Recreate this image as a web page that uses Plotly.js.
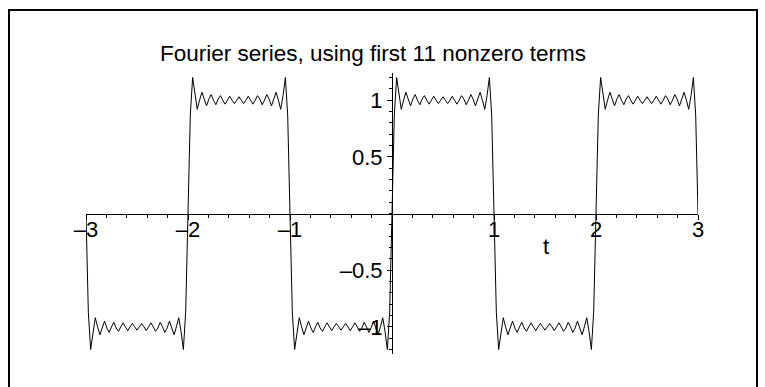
<!DOCTYPE html>
<html>
<head>
<meta charset="utf-8">
<script src="https://cdn.plot.ly/plotly-3.0.1.min.js"></script>
<style>
  html, body { margin: 0; padding: 0; background: #fff; overflow: hidden; }
  #chart { width: 765px; height: 387px; }
</style>
</head>
<body>
<div id="chart"></div>
<script>
// ---- data ----
// sample positions inside one half-cycle (offset from the start of the half-cycle, in t units)
const halfCycleT = [0, 0.0227, 0.0455, 0.0682, 0.0909, 0.1136, 0.1364, 0.1591, 0.1818, 0.2045,
  0.2273, 0.25, 0.2727, 0.2955, 0.3182, 0.3409, 0.3636, 0.3864, 0.4091, 0.4318,
  0.4545, 0.4773, 0.5, 0.5227, 0.5455, 0.5682, 0.5909, 0.6136, 0.6364, 0.6591,
  0.6818, 0.7045, 0.7273, 0.75, 0.7727, 0.7955, 0.8182, 0.8409, 0.8636, 0.8864,
  0.9091, 0.9318, 0.9545, 0.9773, 1];
// curve values on a positive half-cycle (with Gibbs ripples)
const crestY = [0, 0.87, 1.2, 1.04, 0.92, 1.0, 1.07, 1.01, 0.95, 1.01,
  1.05, 1.0, 0.96, 1.01, 1.04, 1.0, 0.965, 1.0, 1.035, 1.0,
  0.97, 1.0, 1.03, 1.0, 0.97, 1.0, 1.035, 1.0, 0.965, 1.0,
  1.04, 1.01, 0.96, 1.0, 1.05, 1.01, 0.95, 1.01, 1.07, 1.0,
  0.92, 1.04, 1.2, 0.87, 0];
// curve values on a negative half-cycle
const troughY = [0, -0.87, -1.2, -1.04, -0.92, -1.0, -1.07, -1.01, -0.95, -1.01,
  -1.05, -1.0, -0.96, -1.01, -1.04, -1.0, -0.965, -1.0, -1.035, -1.0,
  -0.97, -1.0, -1.03, -1.0, -0.97, -1.0, -1.035, -1.0, -0.965, -1.0,
  -1.04, -1.01, -0.96, -1.0, -1.05, -1.01, -0.95, -1.01, -1.07, -1.0,
  -0.92, -1.04, -1.2, -0.87, 0];
const halfCycleStart = [-3, -2, -1, 0, 1, 2];
const halfCycleKind = ['trough', 'crest', 'trough', 'crest', 'trough', 'crest'];

const xTickVals = [-3, -2, -1, 1, 2, 3];
const xTickText = ['\u20133', '\u20132', '\u20131', '1', '2', '3'];
const yTickVals = [-1, -0.5, 0.5, 1];
const yTickText = ['\u20131', '\u20130.5', '0.5', '1'];

const titleText = 'Fourier series, using first 11 nonzero terms';
const xLabel = 't';

// ---- assemble the curve ----
const xs = [], ys = [];
halfCycleStart.forEach((s, i) => {
  const vals = halfCycleKind[i] === 'crest' ? crestY : troughY;
  for (let j = (i === 0 ? 0 : 1); j < halfCycleT.length; j++) {
    xs.push(s + halfCycleT[j]);
    ys.push(vals[j]);
  }
});

const FONT = '"Liberation Sans", Arial, Helvetica, sans-serif';

const trace = {
  x: xs, y: ys, type: 'scatter', mode: 'lines',
  line: { color: '#000', width: 1 },
  hoverinfo: 'skip'
};

const W = 765, H = 387;
const M = { l: 86, r: 67, t: 73, b: 33 };
const pw = W - M.l - M.r, ph = H - M.t - M.b;
const px2x = p => (p - M.l) / pw;
const py2y = p => (H - M.b - p) / ph;

const axisCommon = {
  showgrid: false, zeroline: false, showline: true,
  linecolor: '#000', linewidth: 1,
  ticks: 'outside', ticklen: 5, tickwidth: 1, tickcolor: '#000',
  tickmode: 'array',
  tickfont: { family: FONT, size: 22, color: '#000' },
  anchor: 'free', position: 0.5, fixedrange: true
};

const layout = {
  width: W, height: H,
  margin: { l: M.l, r: M.r, t: M.t, b: M.b, pad: 0 },
  paper_bgcolor: '#fff', plot_bgcolor: '#fff',
  showlegend: false,
  font: { family: FONT, color: '#000' },
  title: {
    text: titleText,
    font: { family: FONT, size: 22.5, color: '#000' },
    x: 373 / W, xref: 'container', xanchor: 'center',
    y: 1 - 53 / H, yref: 'container', yanchor: 'middle'
  },
  xaxis: Object.assign({}, axisCommon, {
    range: [-3, 3],
    tickvals: xTickVals, ticktext: xTickText,
    ticklabelstandoff: -9,
    minor: { tick0: 0, dtick: 0.2, ticks: 'outside', ticklen: 3, tickcolor: '#000', showgrid: false }
  }),
  yaxis: Object.assign({}, axisCommon, {
    range: [-1.24, 1.24],
    tickvals: yTickVals, ticktext: yTickText,
    minor: { tick0: 0, dtick: 0.1, ticks: 'outside', ticklen: 3, tickcolor: '#000', showgrid: false }
  }),
  annotations: [{
    text: xLabel, xref: 'x', yref: 'y', x: 1.51, y: -0.29,
    showarrow: false, xanchor: 'center', yanchor: 'middle',
    font: { family: FONT, size: 22, color: '#000' }
  }],
  shapes: [{
    type: 'path', xref: 'paper', yref: 'paper',
    path: 'M ' + px2x(9) + ' ' + py2y(392) + ' L ' + px2x(9) + ' ' + py2y(10) +
          ' L ' + px2x(757) + ' ' + py2y(10) + ' L ' + px2x(757) + ' ' + py2y(392),
    line: { color: '#000', width: 2 }
  }]
};

Plotly.newPlot('chart', [trace], layout, { staticPlot: true, displayModeBar: false });
</script>
</body>
</html>
